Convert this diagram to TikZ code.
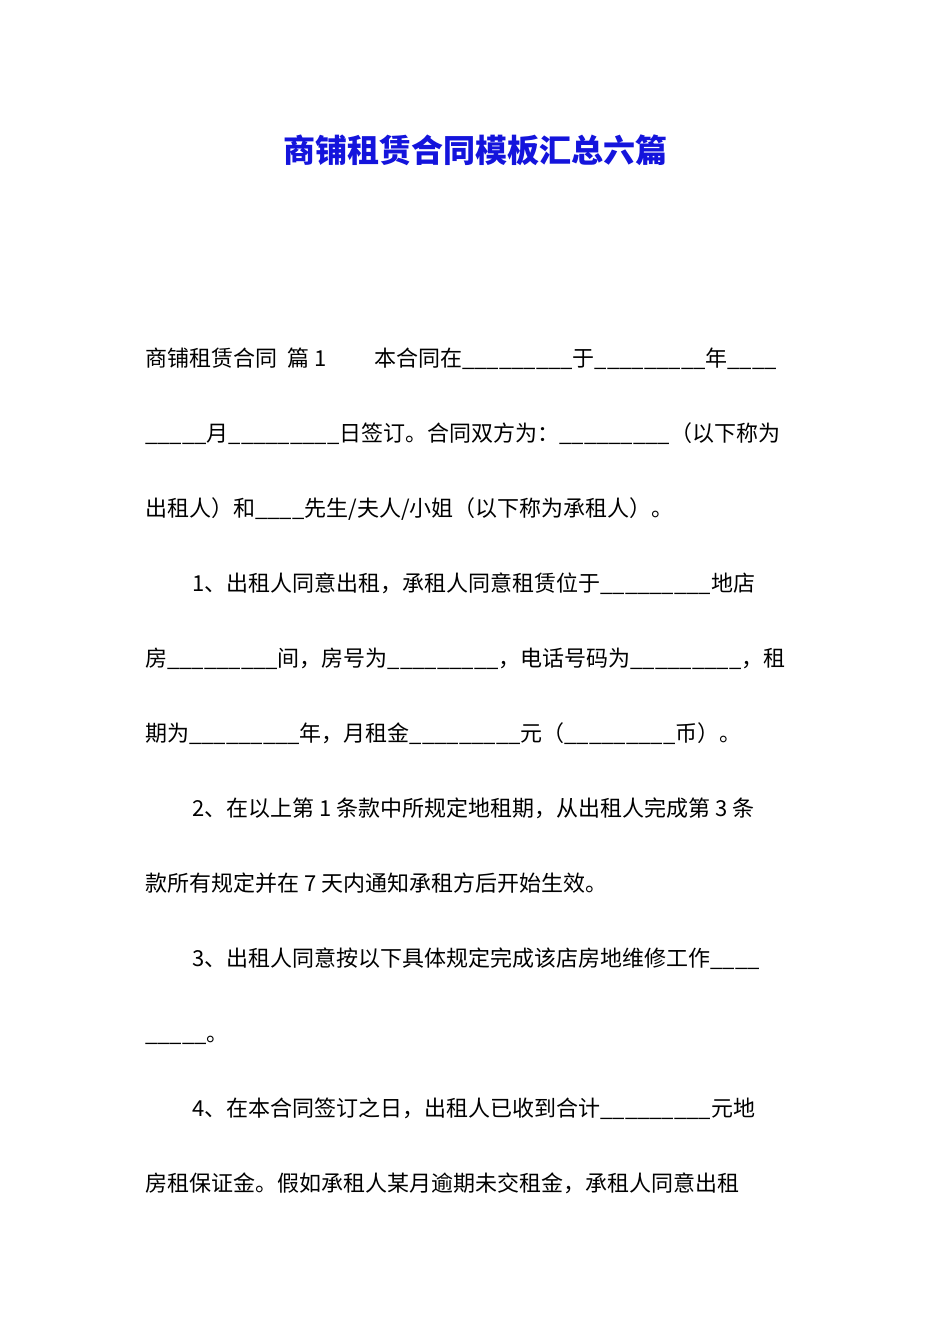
\documentclass[tikz,border=0pt]{standalone}
\usepackage{fontspec}
\setmainfont{Noto Sans CJK SC}
\begin{document}
\catcode`\_=12
\begin{tikzpicture}[x=0.75pt,y=-0.75pt]
\tikzset{ln/.style={anchor=base west,inner sep=0pt,font=\fontsize{16.5}{20}\selectfont}}
\useasboundingbox (0,0) rectangle (950,1344);
\fill[white] (0,0) rectangle (950,1344);
\node[font=\fontsize{24}{28}\selectfont\bfseries,text={rgb,255:red,20;green,20;blue,220},anchor=base] (t) at (475,163) {商铺租赁合同模板汇总六篇};
\node[ln] (l1) at (145,366) {商铺租赁合同\ \ 篇 1\hspace{36pt}本合同在_________于_________年____};
\node[ln] (l2) at (145,441) {_____月_________日签订。合同双方为：_________（以下称为};
\node[ln] (l3) at (145,516) {出租人）和____先生/夫人/小姐（以下称为承租人）。};
\node[ln] (l4) at (192,591) {1、出租人同意出租，承租人同意租赁位于_________地店};
\node[ln] (l5) at (145,666) {房_________间，房号为_________，电话号码为_________，租};
\node[ln] (l6) at (145,741) {期为_________年，月租金_________元（_________币）。};
\node[ln] (l7) at (192,816) {2、在以上第 1 条款中所规定地租期，从出租人完成第 3 条};
\node[ln] (l8) at (145,891) {款所有规定并在 7 天内通知承租方后开始生效。};
\node[ln] (l9) at (192,966) {3、出租人同意按以下具体规定完成该店房地维修工作____};
\node[ln] (l10) at (145,1041) {_____。};
\node[ln] (l11) at (192,1116) {4、在本合同签订之日，出租人已收到合计_________元地};
\node[ln] (l12) at (145,1191) {房租保证金。假如承租人某月逾期未交租金，承租人同意出租};
\end{tikzpicture}
\end{document}
